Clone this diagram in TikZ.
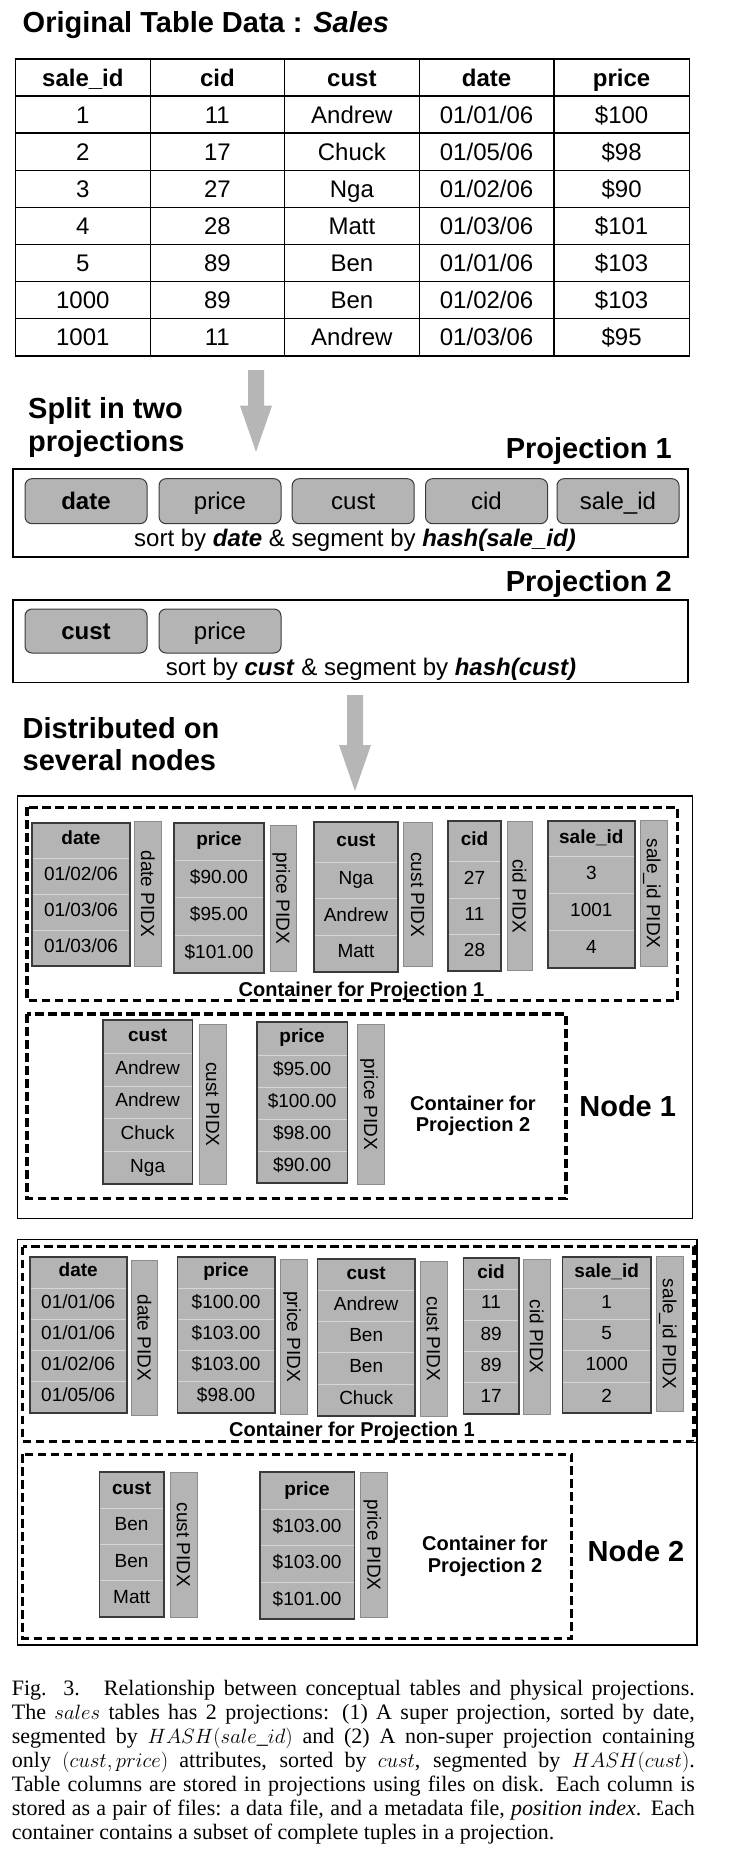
\documentclass[tikz,border=0pt]{standalone}
\usepackage{fontspec}
\setmainfont{Liberation Sans}
\newfontfamily\capfont{Liberation Serif}
\usetikzlibrary{calc}
\definecolor{cellgray}{HTML}{B4B4B4}
\definecolor{sepgray}{HTML}{D6D6D6}
\definecolor{edgegray}{HTML}{8C8C8C}
\definecolor{darkedge}{HTML}{3A3A3A}
\definecolor{arrowgray}{HTML}{B6B6B6}
\newcommand\fsz[1]{\fontsize{#1}{#1}\selectfont}
\tikzset{
  tcell/.style={inner sep=0pt, font=\fsz{24}, text height=17.3pt, text depth=0pt},
  thead/.style={tcell, font=\bfseries\fsz{24}},
  ccell/.style={inner sep=0pt, font=\fsz{19}, text height=13.7pt, text depth=0pt},
  chead/.style={ccell, font=\bfseries\fsz{19}},
  pidxlbl/.style={ccell, rotate=-90},
  pbox/.style={draw=darkedge, fill=cellgray, rounded corners=7pt, line width=1pt, inner sep=0pt,
    minimum width=122pt, font=\fsz{24}, text height=17.3pt, text depth=0pt},
  heading/.style={inner sep=0pt, anchor=base west, font=\bfseries\fsz{29}},
  contlbl/.style={inner sep=0pt, anchor=base, font=\bfseries\fsz{20}},
  sorttxt/.style={inner sep=0pt, anchor=base, font=\fsz{24}},
  nodebox/.style={draw=black, line width=1.5pt},
  projbox/.style={draw=black, line width=1.5pt},
  contbox/.style={draw=black, line width=3.3pt, dash pattern=on 8.5pt off 4.5pt},
  capline/.style={inner sep=0pt, anchor=base west, font=\capfont\fsz{22}}
}
% table row: index, style, 5 texts
\newcommand\trow[7]{%
  \pgfmathsetmacro\tyc{59+(#1+0.5)*37.1}%
  \node[#2] (t#1c1) at (82.85,\tyc) {#3};
  \node[#2] (t#1c2) at (217.35,\tyc) {#4};
  \node[#2] (t#1c3) at (351.85,\tyc) {#5};
  \node[#2] (t#1c4) at (486.6,\tyc) {#6};
  \node[#2] (t#1c5) at (621.6,\tyc) {#7};
}
% data column: name, x1, x2, ytop, yhead, ybot, header, n, entries
\newcommand\dcol[9]{%
  \fill[cellgray] (#2,#4) rectangle (#3,#6);
  \draw[sepgray, line width=1pt] (#2,#5) -- (#3,#5);
  \node[chead] (#1-h) at ({(#2+#3)/2},{(#4+#5)/2-2.5}) {#7};
  \foreach \v [count=\k] in {#9} {%
    \pgfmathsetmacro\ya{#5+(\k-1)*(#6-#5)/#8}%
    \pgfmathsetmacro\yb{#5+\k*(#6-#5)/#8}%
    \ifnum\k>1 \draw[sepgray, line width=1pt] (#2,\ya) -- (#3,\ya);\fi
    \node[ccell] (#1-\k) at ({(#2+#3)/2},{(\ya+\yb)/2-2.5}) {\v};
  }%
  \draw[darkedge, line width=1.8pt] (#2,#4) rectangle (#3,#6);
}
% position index strip: name, x1, x2, y1, y2, text
\newcommand\pidx[6]{%
  \fill[cellgray] (#2,#4) rectangle (#3,#5);
  \draw[edgegray, line width=1pt] (#2,#4) rectangle (#3,#5);
  \node[pidxlbl] (#1) at ({(#2+#3)/2},{(#4+#5)/2}) {#6};
}
% block arrow: top coordinate, tip coordinate, head length
\newcommand\blockarrow[3]{%
  \fill[arrowgray] ($(#1)+(-8,0)$) -- ($(#2)+(-8,-#3)$) -- ($(#2)+(-16,-#3)$) -- (#2)
    -- ($(#2)+(16,-#3)$) -- ($(#2)+(8,-#3)$) -- ($(#1)+(8,0)$) -- cycle;
}
\begin{document}
\begin{tikzpicture}[x=1pt,y=-1pt]
\useasboundingbox (0,0) rectangle (734,1870);
\fill[white] (0,0) rectangle (734,1870);

% ---------- original table ----------
\node[heading] (title) at (22.5,33) {Original Table Data : \textit{Sales}};
\draw[line width=1.4pt] (15.5,59) rectangle (689.2,355.8);
\foreach \i in {1,...,7} { \draw[line width=1.4pt] (15.5,{59+\i*37.1}) -- (689.2,{59+\i*37.1}); }
\foreach \xx in {150.2,284.5,419.2,554} { \draw[line width=1.4pt] (\xx,59) -- (\xx,355.8); }
\trow{0}{thead}{sale\_id}{cid}{cust}{date}{price}
\trow{1}{tcell}{1}{11}{Andrew}{01/01/06}{\$100}
\trow{2}{tcell}{2}{17}{Chuck}{01/05/06}{\$98}
\trow{3}{tcell}{3}{27}{Nga}{01/02/06}{\$90}
\trow{4}{tcell}{4}{28}{Matt}{01/03/06}{\$101}
\trow{5}{tcell}{5}{89}{Ben}{01/01/06}{\$103}
\trow{6}{tcell}{1000}{89}{Ben}{01/02/06}{\$103}
\trow{7}{tcell}{1001}{11}{Andrew}{01/03/06}{\$95}

% ---------- arrow 1 ----------
\coordinate (a1top) at (256,370);
\coordinate (a1tip) at (256,451.7);
\blockarrow{a1top}{a1tip}{46}

\node[heading] (split1) at (28,418) {Split in two};
\node[heading] (split2) at (28,451) {projections};

% ---------- projection 1 ----------
\node[heading, anchor=base east] (p1lbl) at (672,458) {Projection 1};
\draw[projbox] (13,469) rectangle (688,557);
\node[pbox, minimum height=45pt] (p1date) at (86,501.2) {\textbf{date}};
\node[pbox, minimum height=45pt] (p1price) at (220,501.2) {price};
\node[pbox, minimum height=45pt] (p1cust) at (353.2,501.2) {cust};
\node[pbox, minimum height=45pt] (p1cid) at (486.5,501.2) {cid};
\node[pbox, minimum height=45pt] (p1sale) at (618,501.2) {sale\_id};
\node[sorttxt] (p1sort) at (355,546.7) {sort by \textbf{\textit{date}} \& segment by \textbf{\textit{hash(sale\_id)}}};

% ---------- projection 2 ----------
\node[heading, anchor=base east] (p2lbl) at (672,591.7) {Projection 2};
\draw[projbox] (13,600) rectangle (688,682.7);
\node[pbox, minimum height=44pt] (p2cust) at (86,631) {\textbf{cust}};
\node[pbox, minimum height=44pt] (p2price) at (220,631) {price};
\node[sorttxt] (p2sort) at (371,675) {sort by \textbf{\textit{cust}} \& segment by \textbf{\textit{hash(cust)}}};

% ---------- arrow 2 ----------
\coordinate (a2top) at (355,695);
\coordinate (a2tip) at (355,791);
\blockarrow{a2top}{a2tip}{46}

\node[heading] (dist1) at (22.5,738) {Distributed on};
\node[heading] (dist2) at (22.5,770) {several nodes};

% ---------- node 1 ----------
\draw[nodebox] (17.4,796) rectangle (692.5,1218.3);
\draw[contbox] (27,807.3) rectangle (677.5,1000.7);
\draw[contbox] (27,1014) rectangle (566,1198.3);

\dcol{na-date}{32}{130}{822.7}{858.3}{966}{date}{3}{01/02/06,01/03/06,01/03/06}
\pidx{na-datep}{134.7}{161}{821.7}{966}{date PIDX}
\dcol{na-price}{174}{264}{822.7}{860}{972.7}{price}{3}{\$90.00,\$95.00,\$101.00}
\pidx{na-pricep}{270.4}{296}{825}{971.7}{price PIDX}
\dcol{na-cust}{314}{398}{821.7}{862}{971.7}{cust}{3}{Nga,Andrew,Matt}
\pidx{na-custp}{403.8}{432}{822.7}{966.7}{cust PIDX}
\dcol{na-cid}{448}{501}{820.7}{861.7}{970.7}{cid}{3}{27,11,28}
\pidx{na-cidp}{507}{532}{821.7}{970.7}{cid PIDX}
\dcol{na-sale}{548}{634.7}{820.7}{856.7}{967.7}{sale\_id}{3}{3,1001,4}
\pidx{na-salep}{640}{667.6}{820.7}{966.7}{sale\_id PIDX}
\node[contlbl] (na-c1) at (361.5,996.7) {Container for Projection 1};

\dcol{nb-cust}{102.8}{192.5}{1020}{1053.3}{1184.3}{cust}{4}{Andrew,Andrew,Chuck,Nga}
\pidx{nb-custp}{199.5}{226.3}{1024.3}{1184.3}{cust PIDX}
\dcol{nb-price}{256.8}{347.4}{1021.7}{1055}{1183.3}{price}{4}{\$95.00,\$100.00,\$98.00,\$90.00}
\pidx{nb-pricep}{357.7}{384}{1024.3}{1184.3}{price PIDX}
\node[contlbl] (nb-c2a) at (473,1110) {Container for};
\node[contlbl] (nb-c2b) at (473,1131.7) {Projection 2};
\node[heading, anchor=base] (node1) at (627.7,1116) {Node 1};

% ---------- node 2 ----------
\draw[nodebox] (17.4,1239.3) rectangle (697,1645);
\draw[contbox] (22.5,1246.7) rectangle (694,1441.7);
\draw[contbox] (22.5,1454.3) rectangle (571.8,1638.3);

\dcol{nc-date}{29.6}{126.8}{1256.7}{1288.3}{1412.7}{date}{4}{01/01/06,01/01/06,01/02/06,01/05/06}
\pidx{nc-datep}{131}{157.7}{1260.7}{1415}{date PIDX}
\dcol{nc-price}{177.5}{274.6}{1256.7}{1288.3}{1412.7}{price}{4}{\$100.00,\$103.00,\$103.00,\$98.00}
\pidx{nc-pricep}{280.3}{307.5}{1259.3}{1414}{price PIDX}
\dcol{nc-cust}{317.4}{415}{1259.3}{1290}{1415.7}{cust}{4}{Andrew,Ben,Ben,Chuck}
\pidx{nc-custp}{420.2}{447}{1261.7}{1416}{cust PIDX}
\dcol{nc-cid}{463.4}{518.8}{1258.3}{1289}{1414}{cid}{4}{11,89,89,17}
\pidx{nc-cidp}{523.5}{550}{1259.3}{1414}{cid PIDX}
\dcol{nc-sale}{562.4}{651}{1257.3}{1288.3}{1413.3}{sale\_id}{4}{1,5,1000,2}
\pidx{nc-salep}{656.3}{683}{1256}{1411.7}{sale\_id PIDX}
\node[contlbl] (nc-c1) at (352,1436.7) {Container for Projection 1};

\dcol{nd-cust}{99.5}{163.8}{1471.7}{1508.3}{1617.3}{cust}{3}{Ben,Ben,Matt}
\pidx{nd-custp}{170}{197.2}{1472.7}{1617.3}{cust PIDX}
\dcol{nd-price}{259.6}{354.5}{1472.3}{1509.3}{1619.3}{price}{3}{\$103.00,\$103.00,\$101.00}
\pidx{nd-pricep}{360.6}{387.8}{1472.7}{1617.3}{price PIDX}
\node[contlbl] (nd-c2a) at (485,1550) {Container for};
\node[contlbl] (nd-c2b) at (485,1572.7) {Projection 2};
\node[heading, anchor=base] (node2) at (636,1561) {Node 2};

% ---------- caption ----------
\node[capline] (cap1) at (11.7,1695) {\makebox[683pt][s]{Fig. 3.\hspace{1.1em}Relationship between conceptual tables and physical projections.}};
\node[capline] (cap2) at (11.7,1719) {\makebox[683pt][s]{The $sales$ tables has 2 projections: (1) A super projection, sorted by date,}};
\node[capline] (cap3) at (11.7,1743) {\makebox[683pt][s]{segmented by $HASH(sale\_id)$ and (2) A non-super projection containing}};
\node[capline] (cap4) at (11.7,1767) {\makebox[683pt][s]{only $(cust, price)$ attributes, sorted by $cust$, segmented by $HASH(cust)$.}};
\node[capline] (cap5) at (11.7,1791) {\makebox[683pt][s]{Table columns are stored in projections using files on disk. Each column is}};
\node[capline] (cap6) at (11.7,1815) {\makebox[683pt][s]{stored as a pair of files: a data file, and a metadata file, \textit{position index}. Each}};
\node[capline] (cap7) at (11.7,1839) {container contains a subset of complete tuples in a projection.};
\end{tikzpicture}
\end{document}
